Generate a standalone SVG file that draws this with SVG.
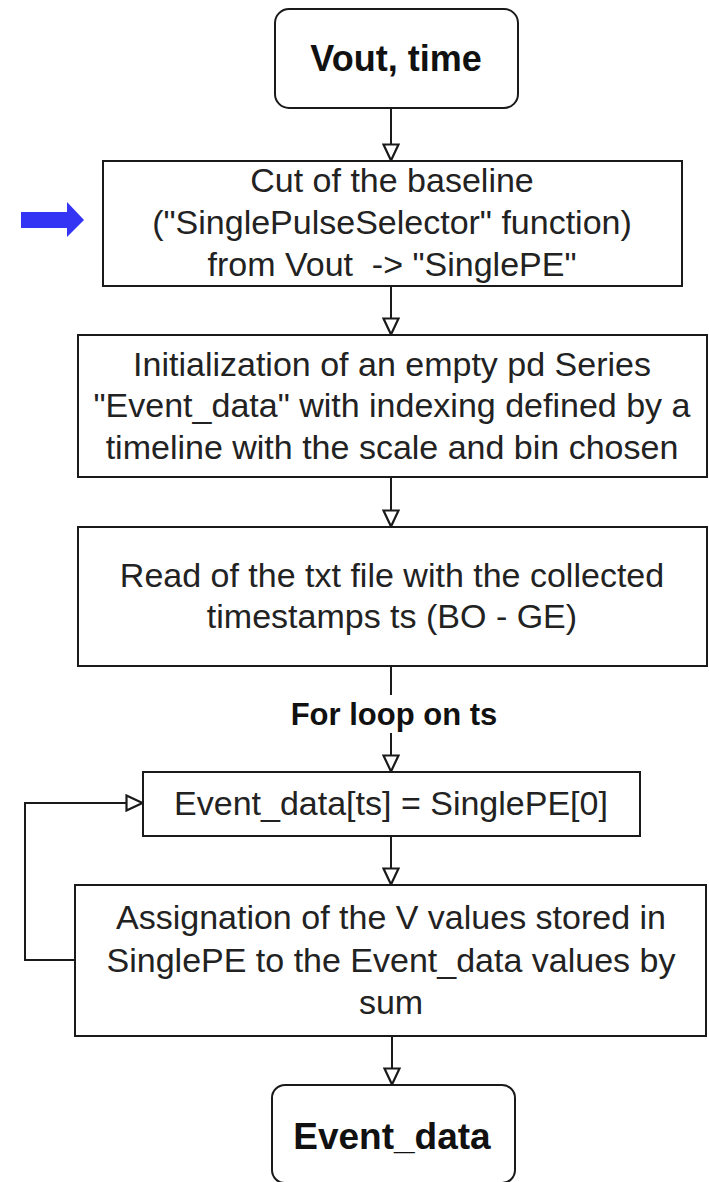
<svg xmlns="http://www.w3.org/2000/svg" width="709" height="1182" viewBox="0 0 709 1182">
  <style>
    .box { fill: #ffffff; stroke: #1a1a1a; stroke-width: 2; }
    .lbl { font-family: "Liberation Sans", Arial, sans-serif; font-size: 34px; fill: #222222; text-anchor: middle; }
    .bold { font-weight: bold; fill: #111111; }
    .edge { fill: none; stroke: #1a1a1a; stroke-width: 2; }
  </style>
  <defs>
    <marker id="open-tri" viewBox="0 0 19 18" refX="18" refY="9" markerWidth="19" markerHeight="18" markerUnits="userSpaceOnUse" orient="auto">
      <path d="M1.5,1.5 L17.5,9 L1.5,16.5 Z" fill="#ffffff" stroke="#1a1a1a" stroke-width="2.2" stroke-linejoin="miter"/>
    </marker>
  </defs>
  <rect width="709" height="1182" fill="#ffffff"/>

  <!-- pointer arrow next to the baseline cut step -->
  <polygon id="pointer" points="21,212 67,212 67,202 84,220 67,237 67,228 21,228" fill="#3434F4"/>

  <g id="start">
    <rect class="box" x="275" y="9" width="243" height="99" rx="14"/>
    <text class="lbl bold" x="396" y="71" style="font-size:36px">Vout, time</text>
  </g>

  <g id="cut-baseline">
    <rect class="box" x="103" y="161" width="579" height="125"/>
    <text class="lbl" x="392" y="192">Cut of the baseline</text>
    <text class="lbl" x="392" y="234">("SinglePulseSelector" function)</text>
    <text class="lbl" x="392" y="276" xml:space="preserve">from Vout  -&gt; "SinglePE"</text>
  </g>

  <g id="init-series">
    <rect class="box" x="78" y="335" width="629" height="142"/>
    <text class="lbl" x="392" y="376">Initialization of an empty pd Series</text>
    <text class="lbl" x="392" y="417">"Event_data" with indexing defined by a</text>
    <text class="lbl" x="392" y="459">timeline with the scale and bin chosen</text>
  </g>

  <g id="read-ts">
    <rect class="box" x="78" y="527" width="629" height="139"/>
    <text class="lbl" x="392" y="587">Read of the txt file with the collected</text>
    <text class="lbl" x="392" y="628">timestamps ts (BO - GE)</text>
  </g>

  <g id="assign-first">
    <rect class="box" x="143" y="772" width="497" height="64"/>
    <text class="lbl" x="391" y="815">Event_data[ts] = SinglePE[0]</text>
  </g>

  <g id="assign-sum">
    <rect class="box" x="75" y="885" width="631" height="151"/>
    <text class="lbl" x="391" y="929">Assignation of the V values stored in</text>
    <text class="lbl" x="391" y="972">SinglePE to the Event_data values by</text>
    <text class="lbl" x="391" y="1014">sum</text>
  </g>

  <g id="end">
    <rect class="box" x="272" y="1085" width="243" height="98" rx="13"/>
    <text class="lbl bold" x="392" y="1149" style="font-size:37px">Event_data</text>
  </g>

  <g id="connectors">
    <line class="edge" x1="391" y1="108" x2="391" y2="161" marker-end="url(#open-tri)"/>
    <line class="edge" x1="391" y1="286" x2="391" y2="335" marker-end="url(#open-tri)"/>
    <line class="edge" x1="391" y1="477" x2="391" y2="527" marker-end="url(#open-tri)"/>
    <line class="edge" x1="391" y1="666" x2="391" y2="695"/>
    <text class="lbl bold" x="394" y="725" style="font-size:31px">For loop on ts</text>
    <line class="edge" x1="391" y1="733" x2="391" y2="772" marker-end="url(#open-tri)"/>
    <line class="edge" x1="391" y1="836" x2="391" y2="885" marker-end="url(#open-tri)"/>
    <polyline class="edge" points="75,960 25,960 25,803 143,803" marker-end="url(#open-tri)"/>
    <line class="edge" x1="392" y1="1036" x2="392" y2="1085" marker-end="url(#open-tri)"/>
  </g>
</svg>
